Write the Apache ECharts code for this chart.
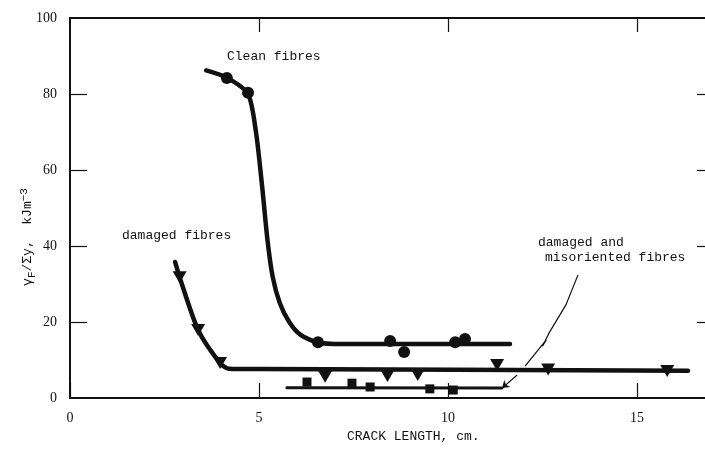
<!DOCTYPE html>
<html>
<head>
<meta charset="utf-8">
<script src="https://cdn.jsdelivr.net/npm/echarts@6/dist/echarts.min.js"></script>
<style>
  html, body { margin: 0; padding: 0; background: #fff; }
  #chart { width: 705px; height: 466px; }
</style>
</head>
<body>
<div id="chart"></div>
<script>
// measured points (crack length cm, value kJ/m3)
var cleanPts = [[4.15, 84.2], [4.71, 80.3], [6.56, 14.7], [8.47, 15.0], [8.84, 12.1], [10.19, 14.7], [10.45, 15.5]];
var damagedPts = [[2.9, 31.8], [3.39, 17.9], [3.97, 9.2], [6.75, 5.6], [8.4, 5.8], [9.2, 6.05], [11.3, 8.7], [12.65, 7.5], [15.8, 7.1]];
var misorPts = [[6.27, 4.2], [7.46, 3.9], [7.94, 2.9], [9.52, 2.4], [10.14, 2.1]];

// hand-drawn curves through the points
var cleanCurve = [[3.6, 86.2], [4.15, 84.3], [4.71, 80], [4.92, 70], [5.08, 56], [5.22, 42], [5.36, 32], [5.55, 25], [5.8, 20], [6.1, 16.6], [6.56, 14.6], [7.2, 14.2], [11.64, 14.2]];
var damagedCurve = [[2.78, 35.8], [2.9, 31.8], [3.39, 17.9], [3.97, 9.2], [4.2, 7.7], [5.0, 7.6], [16.35, 7.2]];
var misorCurve = [[5.74, 2.7], [11.43, 2.6]];

// leader line for "damaged and misoriented fibres"
var leader = [[13.44, 32.4], [13.12, 24.5], [12.68, 17.2], [12.5, 13.6], [12.6, 15.3], [12.04, 8.4]];
var arrow = [[11.83, 6.05], [11.43, 2.6]];

var xTicks = [0, 5, 10, 15];
var yTicks = [0, 20, 40, 60, 80, 100];

var ink = '#111';
var mono = '"Liberation Mono", monospace';
var serif = '"Liberation Serif", serif';

var chart = echarts.init(document.getElementById('chart'), null, { renderer: 'canvas' });

function curve(data, w) {
  return {
    type: 'line',
    data: data,
    smooth: 0.25,
    showSymbol: false,
    silent: true,
    lineStyle: { color: ink, width: w, cap: 'round', join: 'round' },
    z: 2
  };
}

var option = {
  animation: false,
  backgroundColor: '#fff',
  grid: { left: 70, right: 0, top: 18, bottom: 68 },
  xAxis: [
    {
      type: 'value', min: 0, max: 16.8, interval: 5,
      axisLine: { show: true, onZero: false, lineStyle: { color: ink, width: 2 } },
      axisTick: { inside: true, length: 15, customValues: xTicks, lineStyle: { color: ink, width: 1.2 } },
      axisLabel: { margin: 13, color: ink, fontFamily: serif, fontSize: 14, customValues: xTicks },
      splitLine: { show: false }
    },
    {
      type: 'value', position: 'top', min: 0, max: 16.8, interval: 5,
      axisLine: { show: true, onZero: false, lineStyle: { color: ink, width: 2 } },
      axisTick: { inside: true, length: 14, customValues: [5, 10, 15], lineStyle: { color: ink, width: 1.2 } },
      axisLabel: { show: false },
      splitLine: { show: false }
    }
  ],
  yAxis: [
    {
      type: 'value', min: 0, max: 100, interval: 20,
      axisLine: { show: true, onZero: false, lineStyle: { color: ink, width: 2 } },
      axisTick: { inside: true, length: 17, customValues: [20, 40, 60, 80], lineStyle: { color: ink, width: 1.2 } },
      axisLabel: { margin: 13, color: ink, fontFamily: serif, fontSize: 14, customValues: yTicks },
      splitLine: { show: false }
    },
    {
      type: 'value', position: 'right', min: 0, max: 100, interval: 20,
      axisLine: { show: false, onZero: false },
      axisTick: { inside: true, length: 8, customValues: [20, 40, 60, 80], lineStyle: { color: ink, width: 1.2 } },
      axisLabel: { show: false },
      splitLine: { show: false }
    }
  ],
  graphic: [
    { type: 'text', left: 227, top: 50, style: { text: 'Clean fibres', font: '13px ' + mono, fill: ink } },
    { type: 'text', left: 122, top: 229, style: { text: 'damaged fibres', font: '13px ' + mono, fill: ink } },
    { type: 'text', left: 538, top: 236, style: { text: 'damaged and', font: '13px ' + mono, fill: ink } },
    { type: 'text', left: 545, top: 251, style: { text: 'misoriented fibres', font: '13px ' + mono, fill: ink } },
    { type: 'text', left: 347, top: 430, style: { text: 'CRACK LENGTH, cm.', font: '13px ' + mono, fill: ink } },
    {
      type: 'text', x: 28, y: 237, rotation: Math.PI / 2,
      style: {
        text: 'γ{sub|F}/Σy,  kJm{sup|−3}',
        font: '13px ' + mono, fill: ink, align: 'center', verticalAlign: 'middle',
        rich: {
          sub: { fontSize: 11, fontFamily: mono, verticalAlign: 'bottom', padding: [6, 0, 0, 0] },
          sup: { fontSize: 11, fontFamily: mono, verticalAlign: 'top', padding: [0, 0, 8, 0] }
        }
      }
    }
  ],
  series: [
    curve(cleanCurve, 4.5),
    curve(damagedCurve, 4.5),
    curve(misorCurve, 3),
    {
      type: 'scatter', data: cleanPts, symbol: 'circle', symbolSize: 12,
      itemStyle: { color: ink, opacity: 1 }, z: 3
    },
    {
      type: 'scatter', data: damagedPts, symbol: 'triangle', symbolRotate: 180, symbolSize: [14, 12],
      itemStyle: { color: ink, opacity: 1 }, z: 3
    },
    {
      type: 'scatter', data: misorPts, symbol: 'rect', symbolSize: 9,
      itemStyle: { color: ink, opacity: 1 }, z: 3
    },
    {
      type: 'lines', coordinateSystem: 'cartesian2d', polyline: true, silent: true,
      data: [{ coords: leader }],
      lineStyle: { color: ink, width: 1.2, opacity: 1 }
    },
    {
      type: 'lines', coordinateSystem: 'cartesian2d', silent: true,
      symbol: ['none', 'arrow'], symbolSize: 7,
      data: [{ coords: arrow }],
      lineStyle: { color: ink, width: 1.2, opacity: 1 }
    }
  ]
};

chart.setOption(option);
</script>
</body>
</html>
